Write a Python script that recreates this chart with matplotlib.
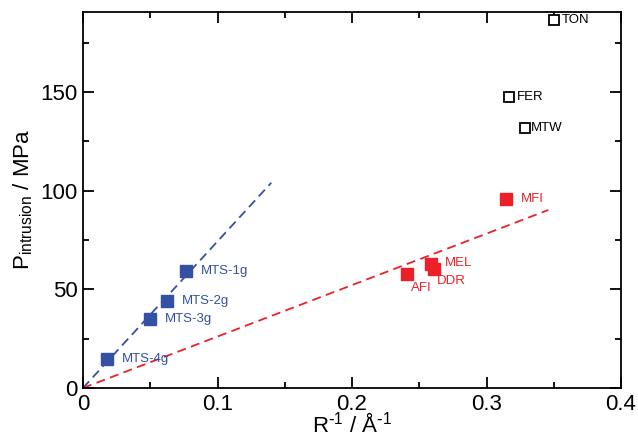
import matplotlib
matplotlib.use("Agg")
import matplotlib.pyplot as plt
from matplotlib.ticker import MultipleLocator

plt.rcParams["font.family"] = ["Liberation Sans", "DejaVu Sans"]

# MTS-ng series (blue)
mts_names = ["MTS-1g", "MTS-2g", "MTS-3g", "MTS-4g"]
mts_x = [0.0766, 0.0625, 0.0498, 0.0178]
mts_y = [59.3, 44.1, 35.0, 14.7]

# zeolites on the red trend
zeo_names = ["AFI", "MEL", "DDR", "MFI"]
zeo_x = [0.241, 0.259, 0.261, 0.3145]
zeo_y = [57.8, 62.8, 60.3, 95.8]

# zeolites off the trend (open squares)
open_names = ["TON", "FER", "MTW"]
open_x = [0.350, 0.3167, 0.3286]
open_y = [186.5, 147.5, 131.8]

# linear fits through origin
blue_fit_x = [0.0, 0.14]
blue_fit_y = [0.0, 104.0]
red_fit_x = [0.0, 0.346]
red_fit_y = [0.0, 90.2]

blue = "#3450a4"
red = "#ec2028"

fig = plt.figure(figsize=(6.38, 4.43), dpi=100)
ax = fig.add_axes([83 / 638, 1 - 388 / 443, 538 / 638, 376 / 443])

ax.plot(blue_fit_x, blue_fit_y, ls=(0, (5, 3)), color=blue, lw=1.3)
ax.plot(red_fit_x, red_fit_y, ls=(0, (5, 3)), color=red, lw=1.3)

ax.plot(mts_x, mts_y, "s", color=blue, ms=9, ls="none")
ax.plot(zeo_x, zeo_y, "s", color=red, ms=9, ls="none")
ax.plot(open_x, open_y, "s", mfc="white", mec="black", mew=1.3, ms=7.5, ls="none")

# label offsets in points
mts_off = [(11, 0), (11, 0), (11, 0), (11, 0)]
for n, x, y, off in zip(mts_names, mts_x, mts_y, mts_off):
    ax.annotate(n, (x, y), xytext=off, textcoords="offset points",
                color=blue, fontsize=9.5, va="center", ha="left")

zeo_off = [(3, -10), (10, 1), (2, -9), (11, 0)]
for n, x, y, off in zip(zeo_names, zeo_x, zeo_y, zeo_off):
    ax.annotate(n, (x, y), xytext=off, textcoords="offset points",
                color=red, fontsize=9.5, va="center", ha="left")

open_off = [(6, 0), (6, 0), (4, 0)]
for n, x, y, off in zip(open_names, open_x, open_y, open_off):
    ax.annotate(n, (x, y), xytext=off, textcoords="offset points",
                color="black", fontsize=9.5, va="center", ha="left")

ax.set_xlim(0, 0.4)
ax.set_ylim(0, 190.5)
ax.xaxis.set_major_locator(MultipleLocator(0.1))
ax.xaxis.set_minor_locator(MultipleLocator(0.05))
ax.yaxis.set_major_locator(MultipleLocator(50))
ax.yaxis.set_minor_locator(MultipleLocator(25))
ax.xaxis.set_major_formatter(plt.FuncFormatter(lambda v, p: f"{v:g}"))

ax.tick_params(which="both", direction="in", top=True, right=True, width=1.3)
ax.tick_params(which="major", length=8, labelsize=16, pad=4)
ax.tick_params(which="minor", length=4)
for s in ax.spines.values():
    s.set_linewidth(1.3)

ax.set_xlabel(r"R$^{\mathregular{\text{-}1}}$ / Å$^{\mathregular{\text{-}1}}$", fontsize=16, labelpad=-1)
ax.set_ylabel(r"P$_{\mathregular{intrusion}}$ / MPa", fontsize=16, labelpad=4)

fig.savefig("out.png", dpi=100)
